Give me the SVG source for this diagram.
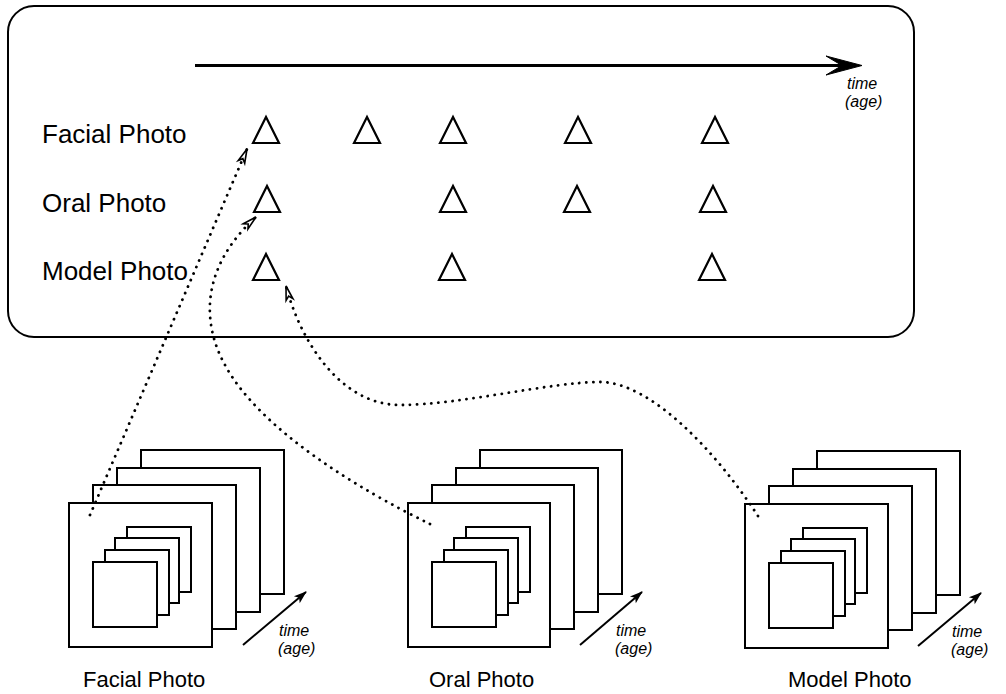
<svg xmlns="http://www.w3.org/2000/svg" width="1006" height="694" viewBox="0 0 1006 694">
<style>
.t{font-family:"Liberation Sans",Arial,sans-serif;fill:#000}
.lbl{font-size:26px}
.blbl{font-size:22px}
.it{font-size:16px;font-style:italic}
.frame{fill:#fff;stroke:#000;stroke-width:2}
.tri{fill:none;stroke:#000;stroke-width:2.2;stroke-linejoin:miter}
.dot{fill:none;stroke:#000;stroke-width:2.8;stroke-linecap:round;stroke-dasharray:0.1 7}
.tarr{stroke:#000;stroke-width:2}
</style>
<defs>
<marker id="hollow" markerUnits="userSpaceOnUse" markerWidth="18" markerHeight="10" refX="15" refY="4.5" orient="auto" overflow="visible">
<path d="M1,1 L15,4.5 L1,8 L4.5,4.5 Z" fill="#fff" stroke="#000" stroke-width="1.6" stroke-linejoin="miter"/>
</marker>
<marker id="solid" markerUnits="userSpaceOnUse" markerWidth="14" markerHeight="10" refX="12" refY="4.5" orient="auto" overflow="visible">
<path d="M0,0 L13,4.5 L0,9 L3,4.5 Z" fill="#000"/>
</marker>
<polygon id="tr" points="-13,13 0,-13 13,13" class="tri"/>
</defs>
<rect width="1006" height="694" fill="#fff"/>

<g id="timeline">
<rect x="8" y="6" width="906" height="331" rx="26" ry="26" fill="none" stroke="#000" stroke-width="2"/>
<line x1="195" y1="65.5" x2="850" y2="65.5" stroke="#000" stroke-width="3"/>
<path d="M862,65.5 L826,56 L842,65.5 L826,75 Z" fill="#000" stroke="#000" stroke-width="1" stroke-linejoin="round"/>
<text class="t it" x="847" y="89">time</text>
<text class="t it" x="845" y="107">(age)</text>
<text class="t lbl" x="42" y="143">Facial Photo</text>
<text class="t lbl" x="42" y="212">Oral Photo</text>
<text class="t lbl" x="42" y="280">Model Photo</text>
</g>

<g id="marks">
<use href="#tr" x="266" y="130"/>
<use href="#tr" x="367" y="130"/>
<use href="#tr" x="453" y="130"/>
<use href="#tr" x="578" y="130"/>
<use href="#tr" x="715" y="130"/>
<use href="#tr" x="267" y="199"/>
<use href="#tr" x="453" y="199"/>
<use href="#tr" x="577" y="199"/>
<use href="#tr" x="713" y="199"/>
<use href="#tr" x="266" y="267"/>
<use href="#tr" x="452" y="267"/>
<use href="#tr" x="712" y="267"/>
</g>

<g id="facial-stack" transform="translate(69,503)">
<rect class="frame" x="72" y="-53" width="143" height="144"/>
<rect class="frame" x="48" y="-35" width="143" height="144"/>
<rect class="frame" x="24" y="-18" width="143" height="144"/>
<rect class="frame" x="0" y="0" width="143" height="144"/>
<rect class="frame" x="58" y="24" width="64" height="65"/>
<rect class="frame" x="46" y="35" width="64" height="65"/>
<rect class="frame" x="36" y="47" width="64" height="65"/>
<rect class="frame" x="24" y="59" width="64" height="65"/>
<line class="tarr" x1="174" y1="142" x2="237" y2="89" marker-end="url(#solid)"/>
<text class="t it" x="210" y="133">time</text>
<text class="t it" x="209" y="151">(age)</text>
</g>
<text class="t blbl" x="83" y="687">Facial Photo</text>

<g id="oral-stack" transform="translate(408,503)">
<rect class="frame" x="72" y="-53" width="142" height="144"/>
<rect class="frame" x="48" y="-35" width="142" height="144"/>
<rect class="frame" x="24" y="-18" width="142" height="144"/>
<rect class="frame" x="0" y="0" width="142" height="144"/>
<rect class="frame" x="58" y="24" width="64" height="65"/>
<rect class="frame" x="46" y="35" width="64" height="65"/>
<rect class="frame" x="36" y="47" width="64" height="65"/>
<rect class="frame" x="24" y="59" width="64" height="65"/>
<line class="tarr" x1="172" y1="142" x2="234" y2="89" marker-end="url(#solid)"/>
<text class="t it" x="208" y="133">time</text>
<text class="t it" x="207" y="151">(age)</text>
</g>
<text class="t blbl" x="429" y="687">Oral Photo</text>

<g id="model-stack" transform="translate(745,504)">
<rect class="frame" x="72" y="-53" width="143" height="144"/>
<rect class="frame" x="48" y="-35" width="143" height="144"/>
<rect class="frame" x="24" y="-18" width="143" height="144"/>
<rect class="frame" x="0" y="0" width="143" height="144"/>
<rect class="frame" x="58" y="24" width="64" height="65"/>
<rect class="frame" x="46" y="35" width="64" height="65"/>
<rect class="frame" x="36" y="47" width="64" height="65"/>
<rect class="frame" x="24" y="59" width="64" height="65"/>
<line class="tarr" x1="173" y1="142" x2="236" y2="89" marker-end="url(#solid)"/>
<text class="t it" x="207" y="133">time</text>
<text class="t it" x="206" y="151">(age)</text>
</g>
<text class="t blbl" x="788" y="687">Model Photo</text>

<g id="connectors">
<path class="dot" d="M90,515 L247,149" marker-end="url(#hollow)"/>
<path class="dot" d="M430,524 C360,490 260,430 225,365 C200,320 203,265 256,217" marker-end="url(#hollow)"/>
<path class="dot" d="M758,516 C715,450 650,382 600,382 C550,382 460,405 400,405 C340,405 300,340 286,286" marker-end="url(#hollow)"/>
</g>
</svg>
